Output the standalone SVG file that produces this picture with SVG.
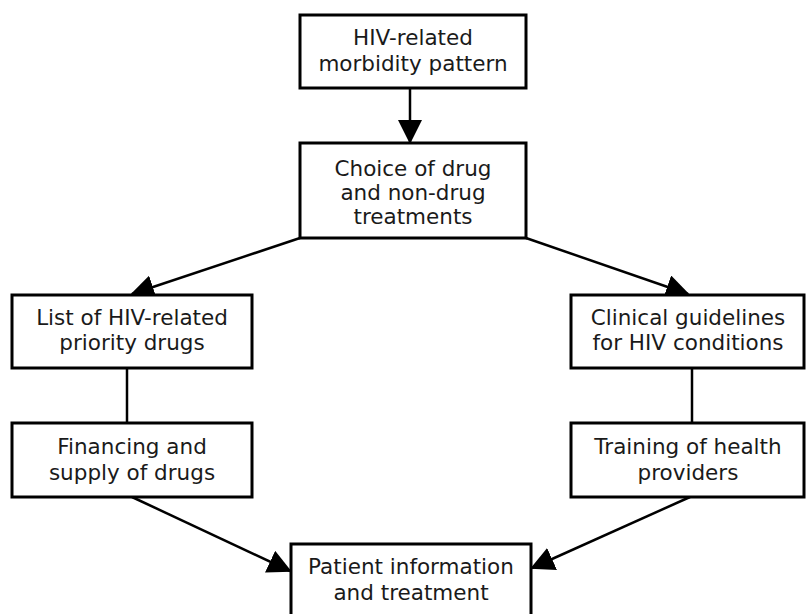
<svg xmlns="http://www.w3.org/2000/svg" width="807" height="614" viewBox="0 0 807 614">
<style>
.box{fill:#fff;stroke:#000;stroke-width:3}
.t{font-family:"DejaVu Sans","Liberation Sans",sans-serif;font-size:21.5px;fill:#1a1a1a;text-anchor:middle}
.c{stroke:#000;stroke-width:2.5;fill:none}
</style>
<defs>
<marker id="ah" markerUnits="userSpaceOnUse" markerWidth="24" markerHeight="24" refX="22" refY="12" orient="auto" viewBox="0 0 24 24">
<path d="M0,0 L24,12 L0,24 Z" fill="#000"/>
</marker>
</defs>
<g id="connectors">
<line class="c" x1="410" y1="88" x2="410" y2="142" stroke-width="4" marker-end="url(#ah)"/>
<line class="c" x1="300" y1="238" x2="132" y2="294" marker-end="url(#ah)"/>
<line class="c" x1="526" y1="238" x2="688" y2="294" marker-end="url(#ah)"/>
<line class="c" x1="127" y1="366" x2="127" y2="423" stroke-width="3"/>
<line class="c" x1="692" y1="368" x2="692" y2="423" stroke-width="3"/>
<line class="c" x1="132" y1="497" x2="290" y2="571" marker-end="url(#ah)"/>
<line class="c" x1="690" y1="497" x2="532" y2="568" marker-end="url(#ah)"/>
</g>
<g id="n1"><rect class="box" x="300" y="15" width="226" height="73"/>
<text class="t" x="413" y="45">HIV-related</text><text class="t" x="413" y="71">morbidity pattern</text></g>
<g id="n2"><rect class="box" x="300" y="143" width="226" height="95"/>
<text class="t" x="413" y="176">Choice of drug</text><text class="t" x="413" y="200">and non-drug</text><text class="t" x="413" y="224">treatments</text></g>
<g id="n3"><rect class="box" x="12" y="295" width="240" height="73"/>
<text class="t" x="132" y="325">List of HIV-related</text><text class="t" x="132" y="350">priority drugs</text></g>
<g id="n4"><rect class="box" x="12" y="423" width="240" height="74"/>
<text class="t" x="132" y="454">Financing and</text><text class="t" x="132" y="480">supply of drugs</text></g>
<g id="n5"><rect class="box" x="571" y="295" width="233" height="73"/>
<text class="t" x="688" y="325">Clinical guidelines</text><text class="t" x="688" y="350">for HIV conditions</text></g>
<g id="n6"><rect class="box" x="571" y="423" width="233" height="74"/>
<text class="t" x="688" y="454">Training of health</text><text class="t" x="688" y="480">providers</text></g>
<g id="n7"><rect class="box" x="291" y="544" width="240" height="80"/>
<text class="t" x="411" y="574">Patient information</text><text class="t" x="411" y="600">and treatment</text></g>
</svg>
